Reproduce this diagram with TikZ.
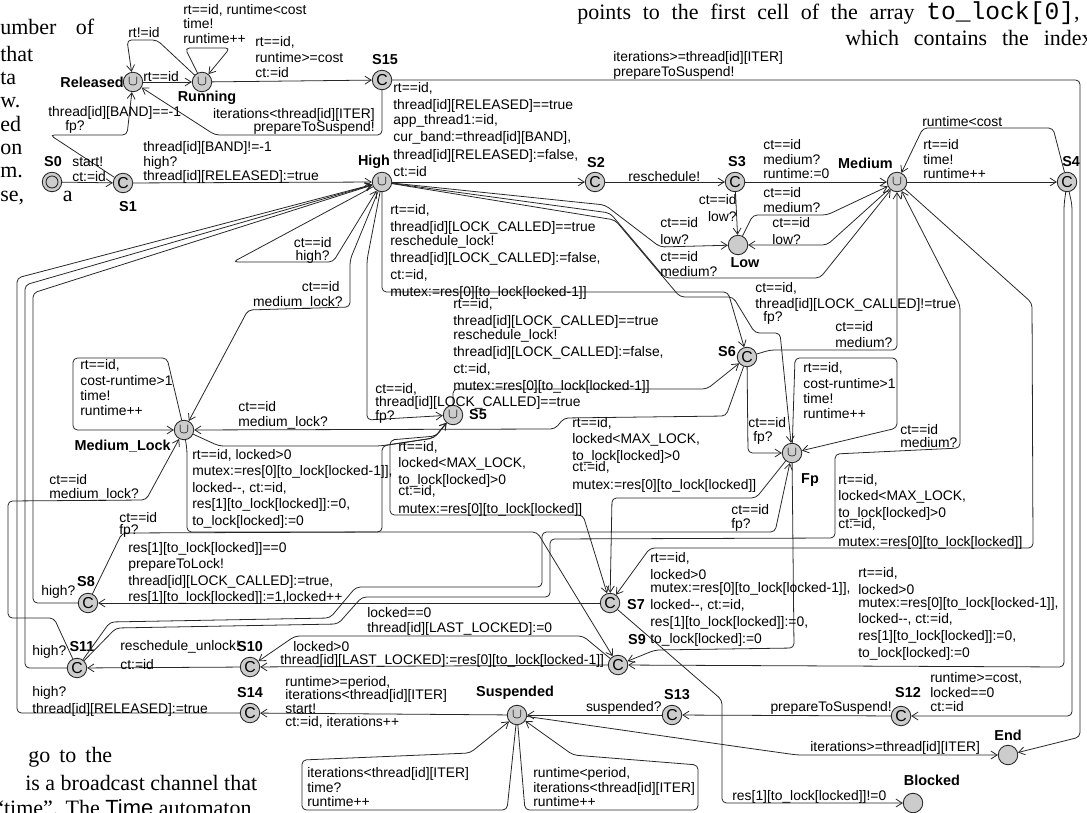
\documentclass[tikz,border=0pt]{standalone}
\usepackage{fontspec}
\setmainfont{Liberation Serif}
\setsansfont{Liberation Sans}
\setmonofont{Liberation Mono}
\usetikzlibrary{arrows.meta}

\newcommand{\lf}{\sffamily\fontsize{7.9}{8.4}\selectfont}
\newcommand{\nf}{\sffamily\bfseries\fontsize{8.2}{9}\selectfont}
\newcommand{\pagetxt}{\rmfamily\fontsize{12.5}{14}\selectfont}
\newcommand{\gap}{\hspace{6.7pt}}

\begin{document}
\begin{tikzpicture}[x=0.02cm,y=-0.02cm,
  loc/.style={circle,draw=black!85,fill=gray!40,minimum size=0.39cm,inner sep=0pt,line width=0.5pt},
  urg/.style={loc,font=\fontsize{8}{8}\selectfont},
  com/.style={loc,font=\sffamily\fontsize{9}{9}\selectfont},
  edge/.style={draw=black!85,line width=0.45pt,rounded corners=2.5pt,-{Straight Barb[length=3.5pt,width=4.5pt]}},
  lbl/.style={font=\lf,inner sep=0pt,anchor=west},
  blk/.style={font=\lf,inner sep=0pt,anchor=north west,align=left},
  nm/.style={font=\nf,inner sep=0pt},
  pg/.style={font=\pagetxt,anchor=base west,inner sep=0pt}]
\useasboundingbox (0,0) rectangle (1087,813);
\clip (0,0) rectangle (1087,813);

% surrounding text of the page
\node[pg] at (0,35) {umber\hspace{11pt}of};
\foreach \t/\y in {that/62, ta/85, w./108, ed/132, on/155, m./178}
  \node[pg] at (0,\y) {\t};
\node[pg] at (0,202) {se,\hspace{22pt}a};
\node[pg] at (577,20) {points\gap to\gap the\gap first\gap cell\gap of\gap the\gap array\gap{\fontsize{14}{14}\ttfamily to\_lock[0]},};
\node[pg] at (845,46) {which\hspace{8.5pt}contains\hspace{8.5pt}the\hspace{8.5pt}index};
\node[pg] at (28,762) {go\hspace{2pt} to\hspace{2pt} the};
\node[pg] at (25,790) {is a broadcast channel that};
\node[pg] at (-6,815) {``time''. The \textsf{Time} automaton};

% locations
\node[urg] (rel) at (133,82) {$\cup$};
\node[urg] (run) at (202,82) {$\cup$};
\node[com] (s15) at (382,80) {C};
\node[loc] (s0) at (52,182) {};
\draw[black!85,line width=0.5pt] (s0) circle (0.12cm);
\node[com] (s1) at (123,183) {C};
\node[urg] (high) at (382,182) {$\cup$};
\node[com] (s2) at (595,182) {C};
\node[com] (s3) at (735,182) {C};
\node[urg] (med) at (897,182) {$\cup$};
\node[com] (s4) at (1067,182) {C};
\node[loc] (low) at (738,245) {};
\node[urg] (ml) at (184,430) {$\cup$};
\node[urg] (s5) at (453,415) {$\cup$};
\node[com] (s6) at (747,357) {C};
\node[urg] (fp) at (792,453) {$\cup$};
\node[com] (s7) at (610,603) {C};
\node[com] (s8) at (88,603) {C};
\node[com] (s9) at (618,665) {C};
\node[com] (s10) at (250,667) {C};
\node[com] (s11) at (77,668) {C};
\node[com] (s14) at (250,713) {C};
\node[urg] (sus) at (517,715) {$\cup$};
\node[com] (s13) at (672,715) {C};
\node[com] (s12) at (901,716) {C};
\node[loc] (end) at (1008,755) {};
\node[loc] (blk) at (913,803) {};

% location names
\node[nm,anchor=east] at (124,82) {Released};
\node[nm] at (207,98) {Running};
\node[nm] at (385,60) {S15};
\node[nm] at (53,162) {S0};
\node[nm] at (128,207) {S1};
\node[nm] at (374,162) {High};
\node[nm] at (596,163) {S2};
\node[nm] at (737,162) {S3};
\node[nm,anchor=east] at (893,163) {Medium};
\node[nm,anchor=west] at (1062,162) {S4};
\node[nm] at (745,263) {Low};
\node[nm] at (478,415) {S5};
\node[nm] at (727,352) {S6};
\node[nm] at (810,480) {Fp};
\node[nm,anchor=east] at (171,446) {Medium\_Lock};
\node[nm] at (636,605) {S7};
\node[nm] at (86,582) {S8};
\node[nm] at (637,640) {S9};
\node[nm] at (250,647) {S10};
\node[nm] at (82,647) {S11};
\node[nm] at (250,693) {S14};
\node[nm] at (515,693) {Suspended};
\node[nm] at (677,695) {S13};
\node[nm] at (908,693) {S12};
\node[nm] at (1008,735) {End};
\node[nm] at (932,780) {Blocked};

% edges
\draw[edge] (s0) -- (s1);
\draw[edge] (s1) -- (high);
\draw[edge] (s1) -- (50,135) -- (127,135) -- (rel);
\draw[edge] (rel) -- (run);
\draw[edge] (run) -- (157,40) -- (127,40) -- (rel);
\draw[edge] (run) -- (185,48) -- (230,48) -- (run);
\draw[edge] (run) -- (s15);
\draw[edge] (s15) -- (382,135) -- (215,135) -- (rel);
\draw[edge] (s15) -- (1080,80) -- (1080,737) -- (end);
\draw[edge] (high) -- (s2);
\draw[edge] (s2) -- (s3);
\draw[edge] (s3) -- (med);
\draw[edge] (s3) -- (low);
\draw[edge] (low) -- (753,215) -- (827,215) -- (med);
\draw[edge] (med) -- (827,245) -- (low);
\draw[edge] (high) -- (605,205) -- (660,247) -- (low);
\draw[edge] (high) -- (610,213) -- (665,278) -- (820,278) -- (med);
\draw[edge] (med) -- (s4);
\draw[edge] (s4) -- (1053,128) -- (923,128) -- (med);
\draw[edge] (s4) -- (1072,205) -- (1072,716) -- (s12);
\draw[edge] (s4) -- (1064,205) -- (1064,667) -- (s9);
\draw[edge] (high) -- (233,262) -- (333,262) -- (high);
\draw[edge] (high) -- (350,260) -- (350,307) -- (248,310) -- (ml);
\draw[edge] (high) -- (367,260) -- (367,420) -- (s5);
\draw[edge] (high) -- (382,292) -- (728,292) -- (s6);
\draw[edge] (high) -- (615,220) -- (680,297) -- (733,297) -- (755,333) -- (780,333) -- (fp);
\draw[edge] (s6) -- (770,350) -- (897,350) -- (med);
\draw[edge] (s6) -- (748,453) -- (fp);
\draw[edge] (fp) -- (795,358) -- (897,358) -- (897,428) -- (fp);
\draw[edge] (ml) -- (167,358) -- (73,358) -- (73,430) -- (ml);
\draw[edge] (s5) -- (453,389) -- (707,389) -- (s6);
\draw[edge] (s6) -- (726,416) -- (564,418) -- (555,429) -- (ml);
\draw[edge] (s8) -- (122,533) -- (382,532) -- (382,446) -- (434,438) -- (s5);
\draw[edge] (ml) -- (219,446) -- (380,446) -- (434,438) -- (s5);
\draw[edge] (ml) -- (187,450) -- (187,532) -- (537,532) -- (s9);
\draw[edge] (s5) -- (436,436) -- (390,440) -- (390,515) -- (583,515) -- (s7);
\draw[edge] (fp) -- (756,498) -- (612,498) -- (s7);
\draw[edge] (med) -- (1032,303) -- (1033,548) -- (650,548) -- (s7);
\draw[edge] (fp) -- (794,648) -- (655,650) -- (s9);
\draw[edge] (s7) -- (s8);
\draw[edge] (s7) -- (722,700) -- (722,803) -- (blk);
\draw[edge] (s9) -- (583,636) -- (295,636) -- (s10);
\draw[edge] (s9) -- (s10);
\draw[edge] (s10) -- (s11);
\draw[edge] (s8) -- (33,603) -- (33,293) -- (high);
\draw[edge] (s11) -- (25,668) -- (25,285) -- (high);
\draw[edge] (s14) -- (17,713) -- (17,278) -- (high);
\draw[edge] (s11) -- (54,618) -- (8,618) -- (8,501) -- (146,500) -- (ml);
\draw[edge] (s11) -- (110,622) -- (330,618) -- (356,587) -- (542,587) -- (542,532) -- (775,532) -- (fp);
\draw[edge] (s11) -- (116,628) -- (338,624) -- (362,597) -- (550,597) -- (550,539) -- (835,538) -- (835,454) -- (960,448) -- (960,305) -- (med);
\draw[edge] (sus) -- (s14);
\draw[edge] (s13) -- (sus);
\draw[edge] (s12) -- (s13);
\draw[edge] (sus) -- (740,747) -- (797,755) -- (end);
\draw[edge] (sus) -- (507,810) -- (302,810) -- (302,760) -- (470,753) -- (sus);
\draw[edge] (sus) -- (525,810) -- (698,810) -- (698,765) -- (573,755) -- (sus);

% labels
\node[blk,font=\fontsize{7.9}{8.2}\sffamily] at (183,4) {rt==id, runtime<cost\\time!\\runtime++};
\node[lbl] at (128,33) {rt!=id};
\node[lbl] at (143,77) {rt==id};
\node[blk] at (255,36) {rt==id,\\[1pt]runtime>=cost\\ct:=id};
\node[lbl,anchor=east] at (375,115) {iterations<thread[id][ITER]};
\node[lbl,anchor=east] at (375,128) {prepareToSuspend!};
\node[lbl] at (48,113) {thread[id][BAND]==-1};
\node[lbl] at (65,127) {fp?};
\node[lbl] at (72,162) {start!};
\node[lbl] at (72,177) {ct:=id};
\node[blk] at (143,141) {thread[id][BAND]!=-1\\high?\\thread[id][RELEASED]:=true};
\node[blk,font=\fontsize{7.9}{10}\sffamily] at (393,82) {rt==id,\\thread[id][RELEASED]==true\\[-2pt]app\_thread1:=id,\\cur\_band:=thread[id][BAND],\\thread[id][RELEASED]:=false,\\ct:=id};
\node[lbl] at (628,177) {reschedule!};
\node[lbl] at (613,58) {iterations>=thread[id][ITER]};
\node[lbl] at (613,73) {prepareToSuspend!};
\node[blk] at (763,139) {ct==id\\medium?\\runtime:=0};
\node[blk] at (923,139) {rt==id\\time!\\runtime++};
\node[lbl] at (922,122) {runtime<cost};
\node[lbl,anchor=east] at (737,200) {ct==id};
\node[lbl,anchor=east] at (737,217) {low?};
\node[lbl] at (763,193) {ct==id};
\node[lbl] at (763,208) {medium?};
\node[lbl] at (772,223) {ct==id};
\node[lbl] at (772,240) {low?};
\node[lbl] at (660,223) {ct==id};
\node[lbl] at (660,240) {low?};
\node[lbl] at (660,257) {ct==id};
\node[lbl] at (660,272) {medium?};
\node[lbl,anchor=east] at (332,243) {ct==id};
\node[lbl,anchor=east] at (330,257) {high?};
\node[lbl,anchor=east] at (340,287) {ct==id};
\node[lbl,anchor=east] at (343,303) {medium\_lock?};
\node[blk,font=\fontsize{7.9}{9.8}\sffamily] at (390,204) {rt==id,\\thread[id][LOCK\_CALLED]==true\\[-2pt]reschedule\_lock!\\thread[id][LOCK\_CALLED]:=false,\\ct:=id,\\mutex:=res[0][to\_lock[locked-1]]};
\node[lbl] at (755,288) {ct==id,};
\node[lbl] at (755,305) {thread[id][LOCK\_CALLED]!=true};
\node[lbl] at (763,318) {fp?};
\node[blk,font=\fontsize{7.9}{9.8}\sffamily] at (453,298) {rt==id,\\thread[id][LOCK\_CALLED]==true\\[-2pt]reschedule\_lock!\\thread[id][LOCK\_CALLED]:=false,\\ct:=id,\\mutex:=res[0][to\_lock[locked-1]]};
\node[lbl] at (375,389) {ct==id,};
\node[lbl] at (375,403) {thread[id][LOCK\_CALLED]==true};
\node[lbl] at (375,417) {fp?};
\node[lbl] at (835,327) {ct==id};
\node[lbl] at (835,343) {medium?};
\node[lbl] at (748,423) {ct==id};
\node[lbl] at (753,438) {fp?};
\node[blk] at (803,362) {rt==id,\\[1pt]cost-runtime>1\\time!\\runtime++};
\node[lbl] at (900,430) {ct==id};
\node[lbl] at (900,443) {medium?};
\node[blk,font=\fontsize{7.9}{9.4}\sffamily] at (838,474) {rt==id,\\locked<MAX\_LOCK,\\to\_lock[locked]>0\\[-3pt]ct:=id,\\[1pt]mutex:=res[0][to\_lock[locked]]};
\node[blk] at (80,359) {rt==id,\\[1pt]cost-runtime>1\\time!\\runtime++};
\node[lbl] at (238,407) {ct==id};
\node[lbl] at (238,423) {medium\_lock?};
\node[blk,font=\fontsize{7.9}{9.4}\sffamily] at (192,449) {rt==id, locked>0\\mutex:=res[0][to\_lock[locked-1]],\\locked-{}-, ct:=id,\\res[1][to\_lock[locked]]:=0,\\to\_lock[locked]:=0};
\node[blk,font=\fontsize{7.9}{9.4}\sffamily] at (398,441) {rt==id,\\locked<MAX\_LOCK,\\to\_lock[locked]>0\\[-3pt]ct:=id,\\[1pt]mutex:=res[0][to\_lock[locked]]};
\node[blk,font=\fontsize{7.9}{9.4}\sffamily] at (572,417) {rt==id,\\locked<MAX\_LOCK,\\to\_lock[locked]>0\\[-3pt]ct:=id,\\[1pt]mutex:=res[0][to\_lock[locked]]};
\node[lbl] at (49,480) {ct==id};
\node[lbl] at (49,495) {medium\_lock?};
\node[lbl] at (119,518) {ct==id};
\node[lbl] at (119,531) {fp?};
\node[blk,font=\fontsize{7.9}{9.4}\sffamily] at (128,542) {res[1][to\_lock[locked]]==0\\prepareToLock!\\thread[id][LOCK\_CALLED]:=true,\\res[1][to\_lock[locked]]:=1,locked++};
\node[lbl] at (41,592) {high?};
\node[lbl] at (731,510) {ct==id};
\node[lbl] at (731,525) {fp?};
\node[blk,font=\fontsize{7.9}{9.6}\sffamily] at (650,552) {rt==id,\\locked>0\\[-2pt]mutex:=res[0][to\_lock[locked-1]],\\locked-{}-, ct:=id,\\res[1][to\_lock[locked]]:=0,\\to\_lock[locked]:=0};
\node[blk,font=\fontsize{7.9}{9.5}\sffamily] at (858,567) {rt==id,\\locked>0\\[-2pt]mutex:=res[0][to\_lock[locked-1]],\\locked-{}-, ct:=id,\\res[1][to\_lock[locked]]:=0,\\to\_lock[locked]:=0};
\node[lbl] at (367,613) {locked==0};
\node[lbl] at (367,629) {thread[id][LAST\_LOCKED]:=0};
\node[lbl] at (293,647) {locked>0};
\node[lbl] at (280,661) {thread[id][LAST\_LOCKED]:=res[0][to\_lock[locked-1]]};
\node[lbl] at (120,647) {reschedule\_unlock!};
\node[lbl] at (120,665) {ct:=id};
\node[lbl] at (32,652) {high?};
\node[lbl] at (32,693) {high?};
\node[lbl] at (32,710) {thread[id][RELEASED]:=true};
\node[blk,font=\fontsize{7.9}{7.6}\sffamily] at (285,676) {runtime>=period,\\iterations<thread[id][ITER]\\start!\\ct:=id, iterations++};
\node[lbl,anchor=east] at (662,708) {suspended?};
\node[lbl,anchor=east] at (892,708) {prepareToSuspend!};
\node[blk] at (930,672) {runtime>=cost,\\locked==0\\ct:=id};
\node[lbl] at (810,748) {iterations>=thread[id][ITER]};
\node[lbl] at (732,797) {res[1][to\_lock[locked]]!=0};
\node[blk] at (307,767) {iterations<thread[id][ITER]\\time?\\runtime++};
\node[blk] at (533,767) {runtime<period,\\iterations<thread[id][ITER]\\runtime++};
\end{tikzpicture}
\end{document}
